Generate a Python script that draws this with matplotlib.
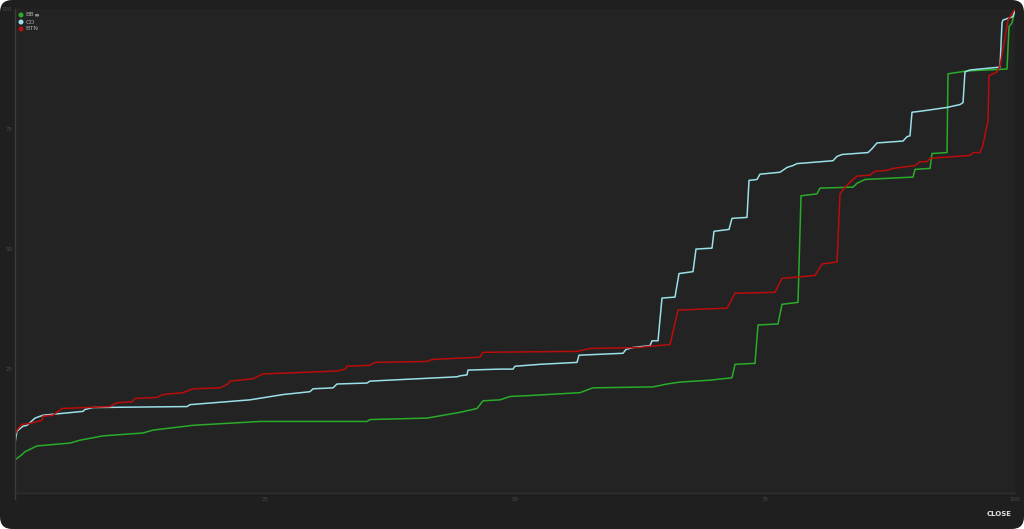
import matplotlib
matplotlib.use('Agg')
import matplotlib.pyplot as plt
from matplotlib.patches import FancyBboxPatch, Ellipse

# percentile (x) vs value (y)
bb_x = [0, 0.7, 1.0, 2.2, 5.5, 6.5, 8.8, 12.8, 13.8, 17.8, 24.5, 35.2, 35.5, 41.2,
        44.5, 46.2, 46.8, 48.5, 49.5, 51.5, 56.5, 57.8, 63.8, 65.2, 66.5, 69.5,
        71.7, 72.0, 74.0, 74.3, 76.3, 76.7, 78.3, 78.6, 80.2, 80.5, 83.8, 84.2,
        85.0, 89.8, 90.0, 91.5, 91.7, 93.2, 93.3, 95.2, 99.2, 99.4, 99.7, 100]
bb_y = [6.1, 7.2, 7.8, 9.0, 9.6, 10.2, 11.1, 11.7, 12.3, 13.3, 14.1, 14.1, 14.5, 14.8,
        16.0, 16.8, 18.4, 18.6, 19.3, 19.5, 20.1, 21.1, 21.3, 21.9, 22.3, 22.7,
        23.2, 26.0, 26.2, 34.2, 34.4, 38.5, 38.9, 61.1, 61.5, 62.7, 62.9, 63.7,
        64.5, 65.0, 66.6, 66.8, 69.9, 70.1, 86.5, 87.1, 87.5, 96.3, 97.1, 100]

co_x = [0, 0.2, 0.8, 1.2, 2.0, 2.8, 6.8, 7.0, 7.8, 17.2, 17.5, 23.5, 26.8, 29.5,
        29.8, 31.8, 32.2, 35.2, 35.5, 44.2, 44.5, 45.2, 45.3, 48.5, 49.8, 50.0,
        52.5, 56.2, 56.4, 60.8, 61.1, 61.8, 63.5, 63.7, 64.3, 64.7, 66.0, 66.4,
        67.8, 68.1, 69.7, 69.9, 71.4, 71.7, 73.2, 73.4, 74.2, 74.5, 76.5, 77.2,
        77.8, 78.2, 81.8, 82.2, 82.7, 85.3, 85.7, 86.2, 88.8, 89.2, 89.5, 89.7,
        90.5, 91.2, 93.2, 94.5, 94.8, 95.0, 95.5, 98.5, 98.7, 98.8, 99.5, 99.8, 100]
co_y = [9.6, 12.1, 13.1, 13.3, 14.8, 15.4, 16.2, 16.6, 17.0, 17.2, 17.6, 18.6, 19.7, 20.3,
        20.9, 21.1, 21.9, 22.1, 22.5, 23.4, 23.6, 23.8, 24.8, 25.0, 25.0, 25.6,
        26.0, 26.4, 27.9, 28.3, 29.1, 29.5, 29.9, 30.9, 30.9, 39.8, 40.0, 44.9,
        45.3, 50.0, 50.2, 53.7, 54.1, 56.4, 56.6, 64.3, 64.5, 65.6, 66.0, 67.0,
        67.4, 67.8, 68.4, 69.3, 69.7, 70.1, 70.9, 72.1, 72.5, 73.4, 73.6, 78.5,
        78.7, 78.9, 79.5, 80.1, 80.5, 86.9, 87.3, 87.9, 97.1, 97.7, 98.2, 98.4, 99.8]

btn_x = [0, 0.2, 0.7, 1.5, 2.7, 2.8, 3.8, 4.7, 9.5, 10.2, 11.7, 12.0, 14.2, 14.8,
         16.8, 17.8, 20.5, 21.3, 21.5, 23.8, 24.2, 24.8, 32.2, 33.0, 33.2, 35.5,
         36.0, 41.2, 41.7, 46.5, 46.8, 56.2, 57.5, 62.5, 63.2, 65.5, 66.3, 71.2,
         72.0, 76.0, 76.7, 80.0, 80.7, 82.2, 82.5, 83.0, 83.7, 84.2, 85.5, 86.0,
         87.2, 87.8, 90.0, 90.5, 91.2, 91.5, 95.5, 95.8, 96.5, 96.8, 97.2, 97.3,
         97.4, 98.2, 98.5, 99.3, 100]
btn_y = [11.3, 12.3, 13.5, 13.7, 14.3, 15.2, 15.4, 16.8, 17.2, 18.0, 18.2, 18.9, 19.1, 19.7,
         20.1, 20.9, 21.1, 21.9, 22.5, 23.0, 23.4, 24.0, 24.6, 25.0, 25.6, 25.8,
         26.4, 26.6, 27.0, 27.5, 28.5, 28.7, 29.3, 29.5, 29.7, 30.1, 37.3, 37.7,
         40.8, 41.0, 43.9, 44.5, 46.9, 47.3, 61.5, 62.9, 64.3, 65.2, 65.4, 66.2,
         66.4, 66.8, 67.4, 68.2, 68.2, 68.9, 69.5, 70.1, 70.1, 71.7, 75.8, 76.6,
         86.1, 86.9, 88.1, 97.7, 100]

series = [('BB', bb_x, bb_y, '#2aac2a'),
          ('CO', co_x, co_y, '#9ae0e8'),
          ('BTN', btn_x, btn_y, '#bb0c0c')]

x_ticks = [25, 50, 75, 100]
y_ticks = [25, 50, 75, 100]

W, H = 1024, 529
fig = plt.figure(figsize=(W / 100, H / 100), dpi=100)
fig.patch.set_facecolor('white')

# rounded dark panel
panel = FancyBboxPatch((0, 0), 1, 1, boxstyle='round,pad=0,rounding_size=0.012',
                       transform=fig.transFigure, facecolor='#1f1f1f',
                       edgecolor='none', zorder=-10, mutation_aspect=W / H)
fig.patches.append(panel)

ax = fig.add_axes([15 / W, 1 - 493 / H, 1000 / W, 484 / H])
ax.set_facecolor('#232323')
for name, xs, ys, c in series:
    ax.plot(xs, ys, color=c, lw=1.1, solid_joinstyle='round')

ax.set_xlim(0, 100)
ax.set_ylim(-0.8, 100)
ax.set_xticks(x_ticks)
ax.set_yticks(y_ticks)
ax.set_xticklabels([str(t) for t in x_ticks])
ax.set_yticklabels([str(t) for t in y_ticks])
ax.tick_params(length=0, labelsize=4, colors='#4a4a4a', pad=2)
ax.tick_params(axis='x', pad=3)
for side in ['top', 'right']:
    ax.spines[side].set_visible(False)
ax.spines['left'].set_color('#3c3c3c')
ax.spines['left'].set_linewidth(1)
ax.spines['left'].set_bounds(-2.0, 100)
ax.spines['bottom'].set_color('#2f2f2f')
ax.spines['bottom'].set_linewidth(1)
ax.grid(False)

# legend
for i, (name, xs, ys, c) in enumerate(series):
    yy = 1 - (15 + 7 * i) / H
    fig.patches.append(Ellipse((21 / W, yy), 5 / W, 5 / H, transform=fig.transFigure,
                               facecolor=c, edgecolor='none'))
    fig.text(25.5 / W, yy, name, color='#a8a8a8', fontsize=4.6, va='center', ha='left')
fig.patches.append(FancyBboxPatch((35 / W, 1 - 16.5 / H), 4 / W, 2.5 / H,
                                  boxstyle='round,pad=0,rounding_size=0.001',
                                  transform=fig.transFigure, facecolor='#8a8a8a',
                                  edgecolor='none'))

fig.text(999 / W, 1 - 514 / H, 'CLOSE', color='#e0e0e0', fontsize=5, fontweight='bold',
         ha='center', va='center')

fig.savefig('out.png', dpi=100, facecolor=fig.get_facecolor())
